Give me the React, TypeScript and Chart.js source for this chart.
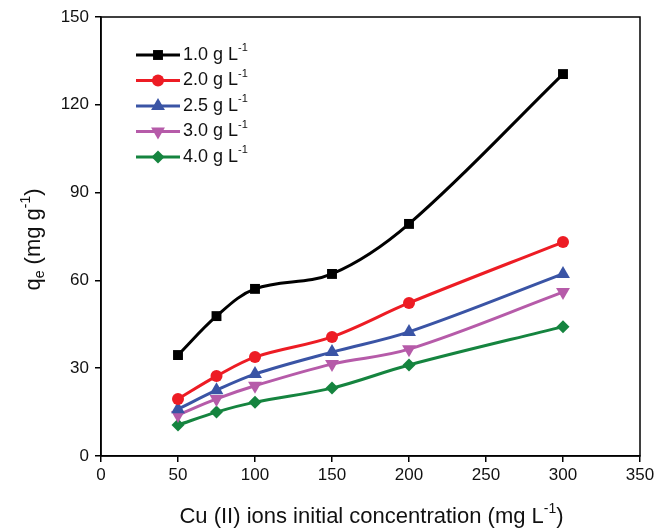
import React, { useEffect, useRef } from "react";
import { Chart, registerables } from "chart.js";

Chart.register(...registerables);

const concentrations = [50, 75, 100, 150, 200, 300];
const q10 = [34.5, 47.8, 57.1, 62.2, 79.3, 130.5];
const q20 = [19.5, 27.3, 33.8, 40.7, 52.3, 73.1];
const q25 = [16.0, 22.5, 28.0, 35.5, 42.4, 62.2];
const q30 = [14.0, 19.5, 24.0, 31.4, 36.5, 56.0];
const q40 = [10.6, 15.0, 18.4, 23.2, 31.1, 44.2];
const seriesLabels = ["1.0 g L", "2.0 g L", "2.5 g L", "3.0 g L", "4.0 g L"];
const xTicks = [0, 50, 100, 150, 200, 250, 300, 350];
const yTicks = [0, 30, 60, 90, 120, 150];

const colors = ["#000000", "#ED1C24", "#3A54A5", "#B65BA9", "#15843F"];
const styles = ["rect", "circle", "triangle", "triangle", "rectRot"];
const rotations = [0, 0, 0, 180, 0];
const radii = [7, 6, 8, 8, 6.5];
const FONT = "'Liberation Sans', Arial, sans-serif";

type Part = { t: string; s: number; dy: number };

function drawRich(ctx: CanvasRenderingContext2D, parts: Part[], x: number, y: number, align: "left" | "center") {
  ctx.save();
  ctx.textBaseline = "middle";
  ctx.textAlign = "left";
  let total = 0;
  for (const p of parts) {
    ctx.font = `${p.s}px ${FONT}`;
    total += ctx.measureText(p.t).width;
  }
  let cx = align === "center" ? x - total / 2 : x;
  for (const p of parts) {
    ctx.font = `${p.s}px ${FONT}`;
    ctx.fillText(p.t, cx, y + p.dy);
    cx += ctx.measureText(p.t).width;
  }
  ctx.restore();
}

function drawMarker(ctx: CanvasRenderingContext2D, style: string, rot: number, x: number, y: number, r: number, color: string) {
  ctx.save();
  ctx.fillStyle = color;
  ctx.translate(x, y);
  ctx.rotate((rot * Math.PI) / 180);
  ctx.beginPath();
  if (style === "rect") {
    const s = r * Math.SQRT1_2;
    ctx.rect(-s, -s, 2 * s, 2 * s);
  } else if (style === "circle") {
    ctx.arc(0, 0, r, 0, Math.PI * 2);
  } else if (style === "triangle") {
    ctx.moveTo(0, -r);
    ctx.lineTo(r * 0.866, r * 0.5);
    ctx.lineTo(-r * 0.866, r * 0.5);
    ctx.closePath();
  } else {
    ctx.moveTo(0, -r);
    ctx.lineTo(r, 0);
    ctx.lineTo(0, r);
    ctx.lineTo(-r, 0);
    ctx.closePath();
  }
  ctx.fill();
  ctx.restore();
}

const overlayPlugin = {
  id: "overlay",
  afterDraw(chart: any) {
    const ctx: CanvasRenderingContext2D = chart.ctx;
    const a = chart.chartArea;
    ctx.save();
    ctx.strokeStyle = "#000";
    ctx.lineWidth = 1.5;
    ctx.strokeRect(a.left, a.top, a.right - a.left, a.bottom - a.top);
    ctx.fillStyle = "#111";
    drawRich(
      ctx,
      [
        { t: "Cu (II) ions initial concentration (mg L", s: 22, dy: 0 },
        { t: "-1", s: 14, dy: -8 },
        { t: ")", s: 22, dy: 0 },
      ],
      (a.left + a.right) / 2 + 1,
      517,
      "center"
    );
    ctx.save();
    ctx.translate(34, (a.top + a.bottom) / 2 + 3);
    ctx.rotate(-Math.PI / 2);
    drawRich(
      ctx,
      [
        { t: "q", s: 22, dy: 0 },
        { t: "e", s: 14, dy: 6 },
        { t: " (mg g", s: 22, dy: 0 },
        { t: "-1", s: 14, dy: -8 },
        { t: ")", s: 22, dy: 0 },
      ],
      0,
      0,
      "center"
    );
    ctx.restore();
    for (let i = 0; i < seriesLabels.length; i++) {
      const y = 55 + i * 25.5;
      ctx.strokeStyle = colors[i];
      ctx.lineWidth = 3;
      ctx.beginPath();
      ctx.moveTo(136, y);
      ctx.lineTo(180, y);
      ctx.stroke();
      drawMarker(ctx, styles[i], rotations[i], 158, y, radii[i], colors[i]);
      ctx.fillStyle = "#111";
      drawRich(
        ctx,
        [
          { t: seriesLabels[i], s: 18, dy: 0 },
          { t: "-1", s: 11, dy: -7 },
        ],
        183,
        y,
        "left"
      );
    }
    ctx.restore();
  },
};

export default function App() {
  const ref = useRef<HTMLCanvasElement>(null);
  useEffect(() => {
    if (!ref.current) return;
    const all = [q10, q20, q25, q30, q40];
    const chart = new Chart(ref.current, {
      type: "line",
      data: {
        datasets: all.map((vals, i) => ({
          label: seriesLabels[i] + "-1",
          data: concentrations.map((c, j) => ({ x: c, y: vals[j] })),
          borderColor: colors[i],
          backgroundColor: colors[i],
          borderWidth: 3,
          pointStyle: styles[i] as any,
          rotation: rotations[i],
          pointRadius: radii[i],
          pointBorderWidth: 0,
          tension: 0.35,
          fill: false,
        })),
      },
      options: {
        responsive: false,
        animation: false,
        layout: { padding: { top: 17, right: 30, left: 0, bottom: 0 } },
        plugins: { legend: { display: false }, tooltip: { enabled: false } },
        scales: {
          x: {
            type: "linear",
            min: 0,
            max: 350,
            afterBuildTicks: (s: any) => {
              s.ticks = xTicks.map((v) => ({ value: v }));
            },
            afterFit: (s: any) => {
              s.height = 75;
            },
            ticks: { color: "#111", font: { family: FONT, size: 17 }, padding: 3, maxRotation: 0 },
            grid: { drawOnChartArea: false, drawTicks: true, tickLength: 6, color: "#000", lineWidth: 1.5 },
            border: { display: true, color: "#000", width: 1.5 },
          },
          y: {
            type: "linear",
            min: 0,
            max: 150,
            afterBuildTicks: (s: any) => {
              s.ticks = yTicks.map((v) => ({ value: v }));
            },
            afterFit: (s: any) => {
              s.width = 101;
            },
            ticks: { color: "#111", font: { family: FONT, size: 17 }, padding: 6 },
            grid: { drawOnChartArea: false, drawTicks: true, tickLength: 6, color: "#000", lineWidth: 1.5 },
            border: { display: true, color: "#000", width: 1.5 },
          },
        },
      },
      plugins: [overlayPlugin],
    });
    return () => chart.destroy();
  }, []);
  return (
    <div style={{ position: "absolute", left: 0, top: 0, width: 670, height: 531, background: "#fff" }}>
      <canvas ref={ref} width={670} height={531} style={{ width: 670, height: 531 }} />
    </div>
  );
}
